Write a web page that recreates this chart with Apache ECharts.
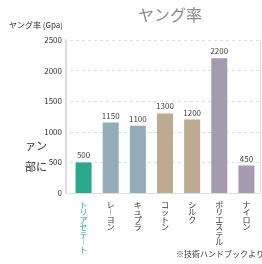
<!DOCTYPE html>
<html>
<head>
<meta charset="utf-8">
<script src="https://cdn.jsdelivr.net/npm/echarts@6/dist/echarts.min.js"></script>
<style>
  html, body { margin: 0; padding: 0; background: #fff; }
  #chart { width: 262px; height: 264px; }
</style>
</head>
<body>
<div id="chart"></div>
<script>
  // データ
  const categories = ['トリアセテート', 'レーヨン', 'キュプラ', 'コットン', 'シルク', 'ポリエステル', 'ナイロン']
  const values = [500, 1150, 1100, 1300, 1200, 2200, 450]
  const barColors = ['#2aaa8c', '#93acb9', '#93acb9', '#bcab91', '#bcab91', '#a59bb0', '#a59bb0']
  const yTicks = [0, 500, 1000, 1500, 2000, 2500]

  const font = '"Noto Sans CJK JP", "Noto Sans", sans-serif'

  // 縦書き用
  let vertical = (s) => s.split('').map(c => c === 'ー' ? '︱' : c).join('\n')

  let chart = echarts.init(document.getElementById('chart'))

  const option = {
    animation: false,
    textStyle: { fontFamily: font },
    title: {
      text: 'ヤング率',
      left: 165,
      top: 2,
      textAlign: 'center',
      textStyle: { fontSize: 16, fontWeight: 'normal', color: '#8a8a8a', fontFamily: font }
    },
    grid: { left: 70, right: 2, top: 40, bottom: 71, show: false },
    xAxis: [
      {
        type: 'category',
        data: categories,
        axisLine: { lineStyle: { color: '#cfcfcf', width: 1 } },
        axisTick: { show: false },
        axisLabel: {
          interval: 0,
          margin: 8,
          fontSize: 8,
          lineHeight: 7.5,
          verticalAlign: 'top',
          formatter: (v) => vertical(v),
          color: (v, i) => i === 0 ? '#2aaa8c' : '#333'
        }
      },
      {
        type: 'category',
        position: 'top',
        data: categories,
        axisLine: { lineStyle: { color: '#dedede', width: 1 } },
        axisTick: { show: false },
        axisLabel: { show: false }
      }
    ],
    yAxis: [
      {
        type: 'value',
        min: yTicks[0],
        max: yTicks[yTicks.length - 1],
        interval: 500,
        offset: 4,
        name: 'ヤング率 (Gpa)',
        nameLocation: 'end',
        nameGap: 11,
        nameTextStyle: { fontSize: 8, color: '#333', align: 'right', padding: [0, 3, 0, 0] },
        axisLine: { show: true, lineStyle: { color: '#dcdcdc', width: 2 } },
        axisTick: { show: false },
        axisLabel: { fontSize: 8, color: '#333', margin: 4, formatter: (v) => String(v) },
        splitLine: { show: true, lineStyle: { type: [3, 3], color: '#dedede' } }
      },
      {
        type: 'value',
        position: 'right',
        min: 0,
        max: 2500,
        axisLine: { show: true, lineStyle: { color: '#dedede', width: 1 } },
        axisTick: { show: false },
        axisLabel: { show: false },
        splitLine: { show: false }
      }
    ],
    series: [
      {
        type: 'bar',
        barWidth: 16,
        data: values.map((v, i) => ({ value: v, itemStyle: { color: barColors[i] } })),
        label: {
          show: true,
          position: 'top',
          distance: 3,
          fontSize: 8,
          color: '#444'
        }
      }
    ],
    graphic: [
      { type: 'text', right: -2, top: 250, style: { text: '※技術ハンドブックより', fontSize: 8, fill: '#333', fontFamily: font } },
      { type: 'text', left: 25, top: 140, style: { text: 'ァン', fontSize: 11, fill: '#333', fontFamily: font } },
      { type: 'text', left: 25, top: 161, style: { text: '部に', fontSize: 11, fill: '#333', fontFamily: font } }
    ]
  }

  chart.setOption(option)
  window.onresize = () => {
    chart.resize()
  }
</script>
</body>
</html>
